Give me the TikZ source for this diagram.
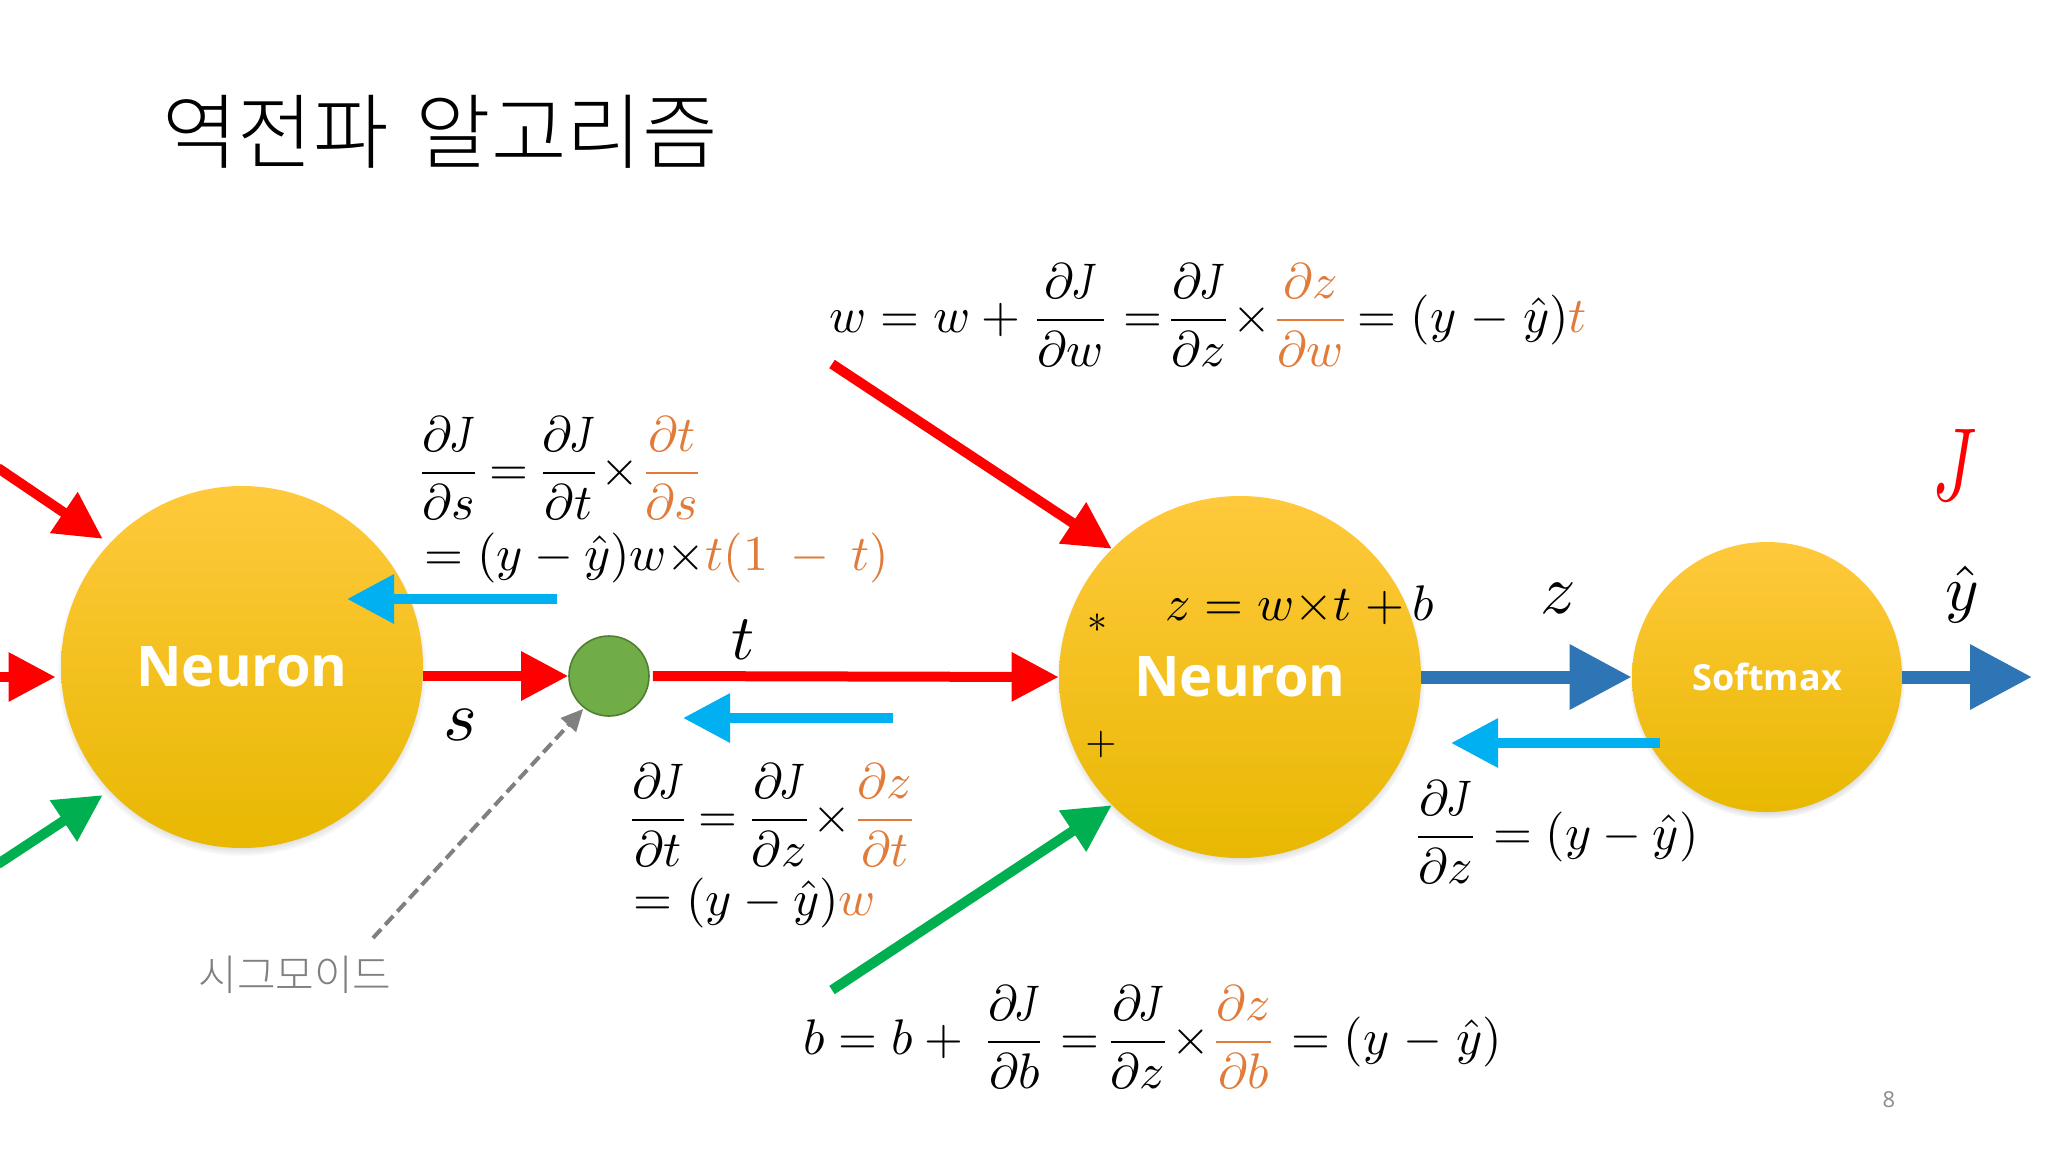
\documentclass[tikz,border=0pt]{standalone}
\usepackage{amsmath}
\usepackage{graphicx}
\usepackage{fontspec}
\newfontfamily\kr{Noto Sans CJK KR Light}
\newfontfamily\opn{Open Sans}
\usetikzlibrary{arrows.meta,shadows}
\definecolor{orng}{HTML}{E07B39}
\definecolor{cyn}{HTML}{00B0F0}
\definecolor{dblue}{HTML}{2E75B6}
\definecolor{grn}{HTML}{00B050}
\definecolor{balltop}{HTML}{FFC93C}
\definecolor{ballmid}{HTML}{FFC107}
\definecolor{ballbot}{HTML}{E8B802}
\definecolor{sgfill}{HTML}{70AD47}
\definecolor{sgline}{HTML}{507E32}
\newcommand{\og}[1]{\textcolor{orng}{#1}}
\newcommand{\JJ}{\mkern-1mu\scalebox{.78}[1]{$J$}}
\newcommand{\dd}[2]{\dfrac{\partial #1}{\partial #2}}
\newcommand{\tm}{{\times}}
\newcommand{\ymy}{(y\mkern1mu-\mkern1mu\hat{y})}
\newcommand{\fm}[1]{\scalebox{2.5}{$\displaystyle #1$}}
\newcommand{\fc}[1]{\scalebox{2.5}{$\displaystyle\thickmuskip=3mu #1$}}
\newcommand{\lb}[2][3.2]{\scalebox{#1}{$#2$}}
\tikzset{
  x=0.5pt,y=-0.5pt,
  ball/.style={circle,inner sep=0pt,draw=none,top color=balltop,middle color=ballmid,bottom color=ballbot,
    circular drop shadow={shadow xshift=0pt,shadow yshift=-2pt,shadow scale=1.02,opacity=.55,fill=black!70}},
  neuron/.style={ball,minimum size=181pt,text=white,font=\opn\bfseries\fontsize{28}{32}\selectfont},
  softm/.style={ball,minimum size=135pt,text=white,font=\opn\bfseries\fontsize{18}{22}\selectfont},
  big/.style={-{Triangle[length=23.5pt,width=23.5pt]},line width=5pt},
  bigger/.style={-{Triangle[length=31pt,width=31pt]},line width=6.5pt},
  formula/.style={inner sep=0pt,anchor=west},
  lab/.style={inner sep=0pt},
}
\begin{document}
\begin{tikzpicture}
\useasboundingbox (0,0) rectangle (2048,1152);
\fill[white] (0,0) rectangle (2048,1152);

\node[inner sep=0pt,anchor=west,font=\kr\fontsize{41}{46}\selectfont] (title) at (162,132) {역전파\hspace{4.5pt} 알고리즘};

% nodes
\node[neuron] (n1) at (242,667) {Neuron};
\node[neuron] (n2) at (1240,677) {Neuron};
\node[softm] (sm) at (1767,677) {Softmax};
\node[circle,minimum size=40pt,inner sep=0pt,fill=sgfill,draw=sgline,line width=.8pt] (sg) at (609,676) {};

% free ends
\coordinate (a1) at (-2,468);
\coordinate (a2) at (-2,677);
\coordinate (a3) at (-2,864);
\coordinate (a4) at (832,364);
\coordinate (a5) at (832,990);
\coordinate (a6) at (2032,677);
\coordinate (c1s) at (557,599);
\coordinate (c1e) at (347,599);
\coordinate (c2s) at (893,718);
\coordinate (c2e) at (683,718);
\coordinate (c3s) at (1660,743);
\coordinate (c3e) at (1451,743);

% connectors
\draw[big,red,shorten >=4pt] (a1) -- (n1.137);
\draw[big,red,shorten >=2.5pt] (a2) -- (n1.west |- a2);
\draw[big,grn,shorten >=4pt] (a3) -- (n1.223);
\draw[big,red] (n1.east |- sg.west) -- (sg.west);
\draw[big,red,shorten <=1.5pt] (sg.east) -- (n2.west);
\draw[big,red] (a4) -- (n2.135);
\draw[big,grn] (a5) -- (n2.225);
\draw[bigger,dblue] (n2.east) -- (sm.west);
\draw[bigger,dblue] (sm.east) -- (a6);
\draw[big,cyn] (c1s) -- (c1e);
\draw[big,cyn] (c2s) -- (c2e);
\draw[big,cyn] (c3s) -- (c3e);

% sigmoid label and pointer
\node[inner sep=0pt,text=black!50,font=\kr\fontsize{21}{24}\selectfont] (sig) at (295,975) {시그모이드};
\coordinate (d1) at (373,938);
\draw[-{Triangle[length=11pt,width=10pt]},line width=2pt,black!50,dash pattern=on 6pt off 3pt,shorten >=.5pt] (d1) -- (sg.232);

% formulas
\node[formula] (f1) at (829,315) {\fm{w = w + \dd{\JJ}{w} =\mkern-4mu \dd{\JJ}{z} \tm \og{\dd{z}{w}} \mkern-2mu= \ymy\og{t}}};
\node[formula] (f2) at (416,468) {\fc{\dd{\JJ}{s} = \dd{\JJ}{t} \tm \og{\dd{t}{s}}}};
\node[formula] (f2b) at (424,558) {\fm{= (y-\hat{y})w\tm\og{t(1\mkern4mu-\mkern4mu t)}}};
\node[formula] (f3) at (626,815) {\fc{\dd{\JJ}{t} = \dd{\JJ}{z} \tm \og{\dd{z}{t}}}};
\node[formula] (f3b) at (633,903) {\fm{= (y-\hat{y})\og{w}}};
\node[formula] (f4) at (803,1037) {\fm{b = b +\mkern3mu \dd{\JJ}{b} =\mkern-3mu \dd{\JJ}{z} \tm \og{\dd{z}{b}} = \ymy}};
\node[formula] (f5) at (1412,832) {\fm{\dd{\JJ}{z} = (y-\hat{y})}};
\node[formula] (f6) at (1165,605) {\fm{z = w\tm t\mkern1mu +\mkern-1mu b}};

% labels
\node[lab] (ls) at (460,725) {\lb[3.6]{s}};
\node[lab] (lt) at (743,640) {\lb{t}};
\node[lab] (lz) at (1558,598) {\lb[3.5]{z}};
\node[lab] (ly) at (1962,594) {\lb{\hat{y}}};
\node[lab,text=red] (lj) at (1955,465) {\scalebox{3.4}[5.2]{$J$}};
\node[lab] (star) at (1097,623) {\lb[2]{*}};
\node[lab] (plus) at (1101,744) {\lb[2]{+}};
\node[inner sep=0pt,text=black!45,font=\opn\fontsize{11}{13}\selectfont] (pg) at (1889,1100) {8};
\end{tikzpicture}
\end{document}
